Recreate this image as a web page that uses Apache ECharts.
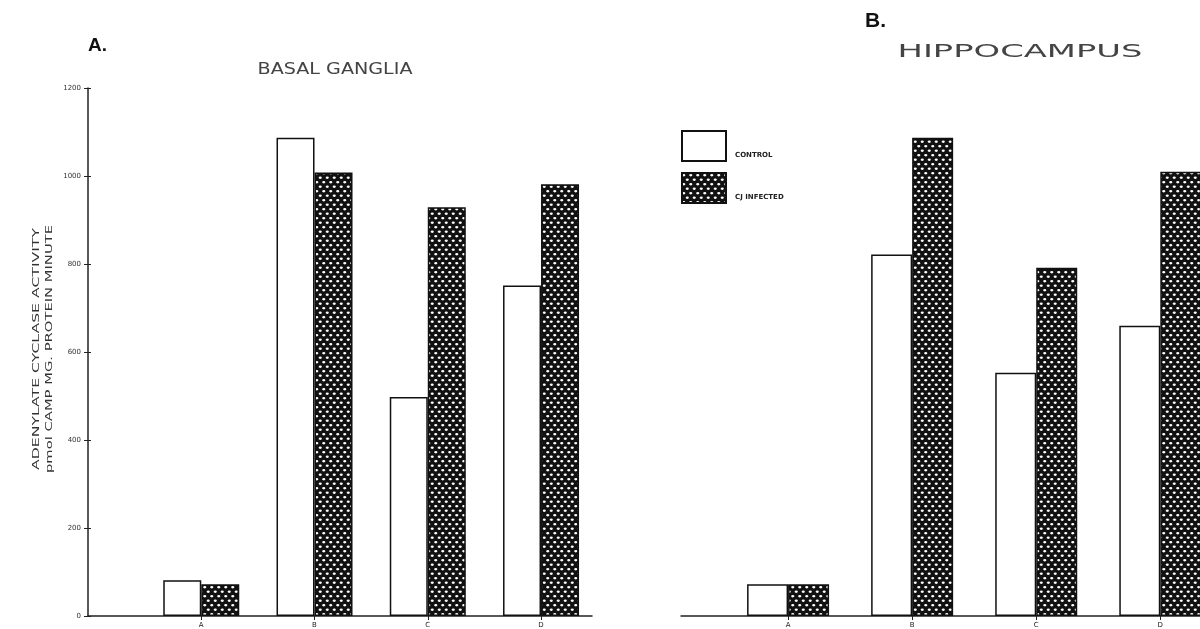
<!DOCTYPE html>
<html>
<head>
<meta charset="utf-8">
<script src="https://cdn.jsdelivr.net/npm/echarts@6/dist/echarts.min.js"></script>
<style>html,body{margin:0;padding:0;background:#fff}#c{width:1200px;height:629px}</style>
</head>
<body>
<div id="c"></div>
<script>
const categories = ['A', 'B', 'C', 'D'];
const basalControl = [81, 1087, 498, 751];
const basalInfected = [72, 1008, 929, 981];
const hippoControl = [72, 817, 550, 656];
const hippoInfected = [72, 1081, 787, 1004];
const legendNames = ['CONTROL', 'CJ INFECTED'];
const yMin = 0, yMax = 1200, yStep = 200;

function makePattern() {
  const c = document.createElement('canvas');
  c.width = 7; c.height = 9;
  const g = c.getContext('2d');
  g.fillStyle = '#111';
  g.fillRect(0, 0, 7, 9);
  g.fillStyle = '#fff';
  const dots = [[1.75, 2.25], [5.25, 6.75], [-1.75, 6.75], [8.75, 6.75], [5.25, -2.25], [1.75, 11.25]];
  dots.forEach(([x, y]) => { g.beginPath(); g.ellipse(x, y, 1.6, 1.15, 0, 0, Math.PI * 2); g.fill(); });
  return c;
}
const pattern = { image: makePattern(), repeat: 'repeat' };

function pts(vals) { return vals.map((v, i) => [i + 1, v]); }

const meas = document.createElement('canvas').getContext('2d');
function fitScale(text, font, target) { meas.font = font; return target / meas.measureText(text).width; }

const F = '"DejaVu Sans", sans-serif';
const titleFont = '15px ' + F;
const hipFont = '18px ' + F;
const yFont = '9px ' + F;

const chart = echarts.init(document.getElementById('c'));
const controlStyle = { color: '#fff', borderColor: '#111', borderWidth: 1.5 };
const infectStyle = { color: pattern, borderColor: '#111', borderWidth: 1.5 };
const catVals = [1, 2, 3, 4];
function xAxis(grid, min, max) {
  return {
    type: 'value', gridIndex: grid, min: min, max: max,
    axisLine: { show: true, onZero: false, lineStyle: { color: '#222', width: 1.5 } },
    axisTick: { show: true, customValues: catVals, length: 4, lineStyle: { color: '#222' } },
    axisLabel: { customValues: catVals, formatter: v => categories[Math.round(v) - 1] || '', fontSize: 7, color: '#222', margin: 6, fontFamily: F },
    splitLine: { show: false }
  };
}

chart.setOption({
  animation: false,
  backgroundColor: '#fff',
  grid: [
    { left: 88, top: 88, width: 504, height: 533 },
    { left: 681, top: 85, width: 519, height: 532 }
  ],
  xAxis: [xAxis(0, 0, 4.45), xAxis(1, 0.137, 4.32)],
  yAxis: [
    { type: 'value', gridIndex: 0, min: yMin, max: yMax, interval: yStep,
      axisLine: { show: true, lineStyle: { color: '#222', width: 1.5 } },
      axisTick: { show: true, length: 4, lineStyle: { color: '#222' } },
      axisLabel: { fontSize: 7, color: '#333', margin: 7, fontFamily: F, formatter: v => String(v) },
      splitLine: { show: false } },
    { type: 'value', gridIndex: 0, position: 'left', min: yMin, max: yMax, interval: yStep,
      axisLine: { show: false },
      axisTick: { show: true, inside: true, length: 3, lineStyle: { color: '#222' } },
      axisLabel: { show: false }, splitLine: { show: false } },
    { type: 'value', gridIndex: 1, min: yMin, max: yMax, show: false }
  ],
  legend: {
    data: legendNames, orient: 'vertical', left: 681, top: 130, itemGap: 10, padding: 0,
    icon: 'rect', itemWidth: 44, itemHeight: 30, selectedMode: false,
    formatter: name => '{t|' + name + '}',
    textStyle: { fontSize: 7, fontWeight: 'bold', color: '#222', fontFamily: F,
      rich: { t: { fontSize: 7, fontWeight: 'bold', color: '#222', fontFamily: F, padding: [19, 0, 0, 4] } } }
  },
  series: [
    { name: legendNames[0], type: 'bar', xAxisIndex: 0, yAxisIndex: 0, data: pts(basalControl), barWidth: 38, barGap: '0%', itemStyle: controlStyle },
    { name: legendNames[1], type: 'bar', xAxisIndex: 0, yAxisIndex: 0, data: pts(basalInfected), barWidth: 38, barGap: '0%', itemStyle: infectStyle },
    { name: legendNames[0], type: 'bar', xAxisIndex: 1, yAxisIndex: 2, data: pts(hippoControl), barWidth: 41, barGap: '0%', itemStyle: controlStyle },
    { name: legendNames[1], type: 'bar', xAxisIndex: 1, yAxisIndex: 2, data: pts(hippoInfected), barWidth: 41, barGap: '0%', itemStyle: infectStyle }
  ],
  graphic: [
    { type: 'text', x: 88, y: 46, style: { text: 'A.', font: 'bold 19px "Liberation Sans", sans-serif', fill: '#111', textVerticalAlign: 'middle' } },
    { type: 'text', x: 865, y: 21, style: { text: 'B.', font: 'bold 21px "Liberation Sans", sans-serif', fill: '#111', textVerticalAlign: 'middle' } },
    { type: 'text', x: 335, y: 70, scaleX: fitScale('BASAL GANGLIA', titleFont, 155), style: { text: 'BASAL GANGLIA', font: titleFont, fill: '#444', textAlign: 'center', textVerticalAlign: 'middle' } },
    { type: 'text', x: 1020, y: 52, scaleX: fitScale('HIPPOCAMPUS', hipFont, 245), style: { text: 'HIPPOCAMPUS', font: hipFont, fill: '#444', textAlign: 'center', textVerticalAlign: 'middle' } },
    { type: 'text', x: 37, y: 349, rotation: Math.PI / 2, scaleX: fitScale('ADENYLATE CYCLASE ACTIVITY', yFont, 242), style: { text: 'ADENYLATE CYCLASE ACTIVITY', font: yFont, fill: '#333', textAlign: 'center', textVerticalAlign: 'middle' } },
    { type: 'text', x: 50, y: 349, rotation: Math.PI / 2, scaleX: fitScale('pmol CAMP MG. PROTEIN MINUTE', yFont, 248), style: { text: 'pmol CAMP MG. PROTEIN MINUTE', font: yFont, fill: '#333', textAlign: 'center', textVerticalAlign: 'middle' } }
  ]
});
</script>
</body>
</html>
